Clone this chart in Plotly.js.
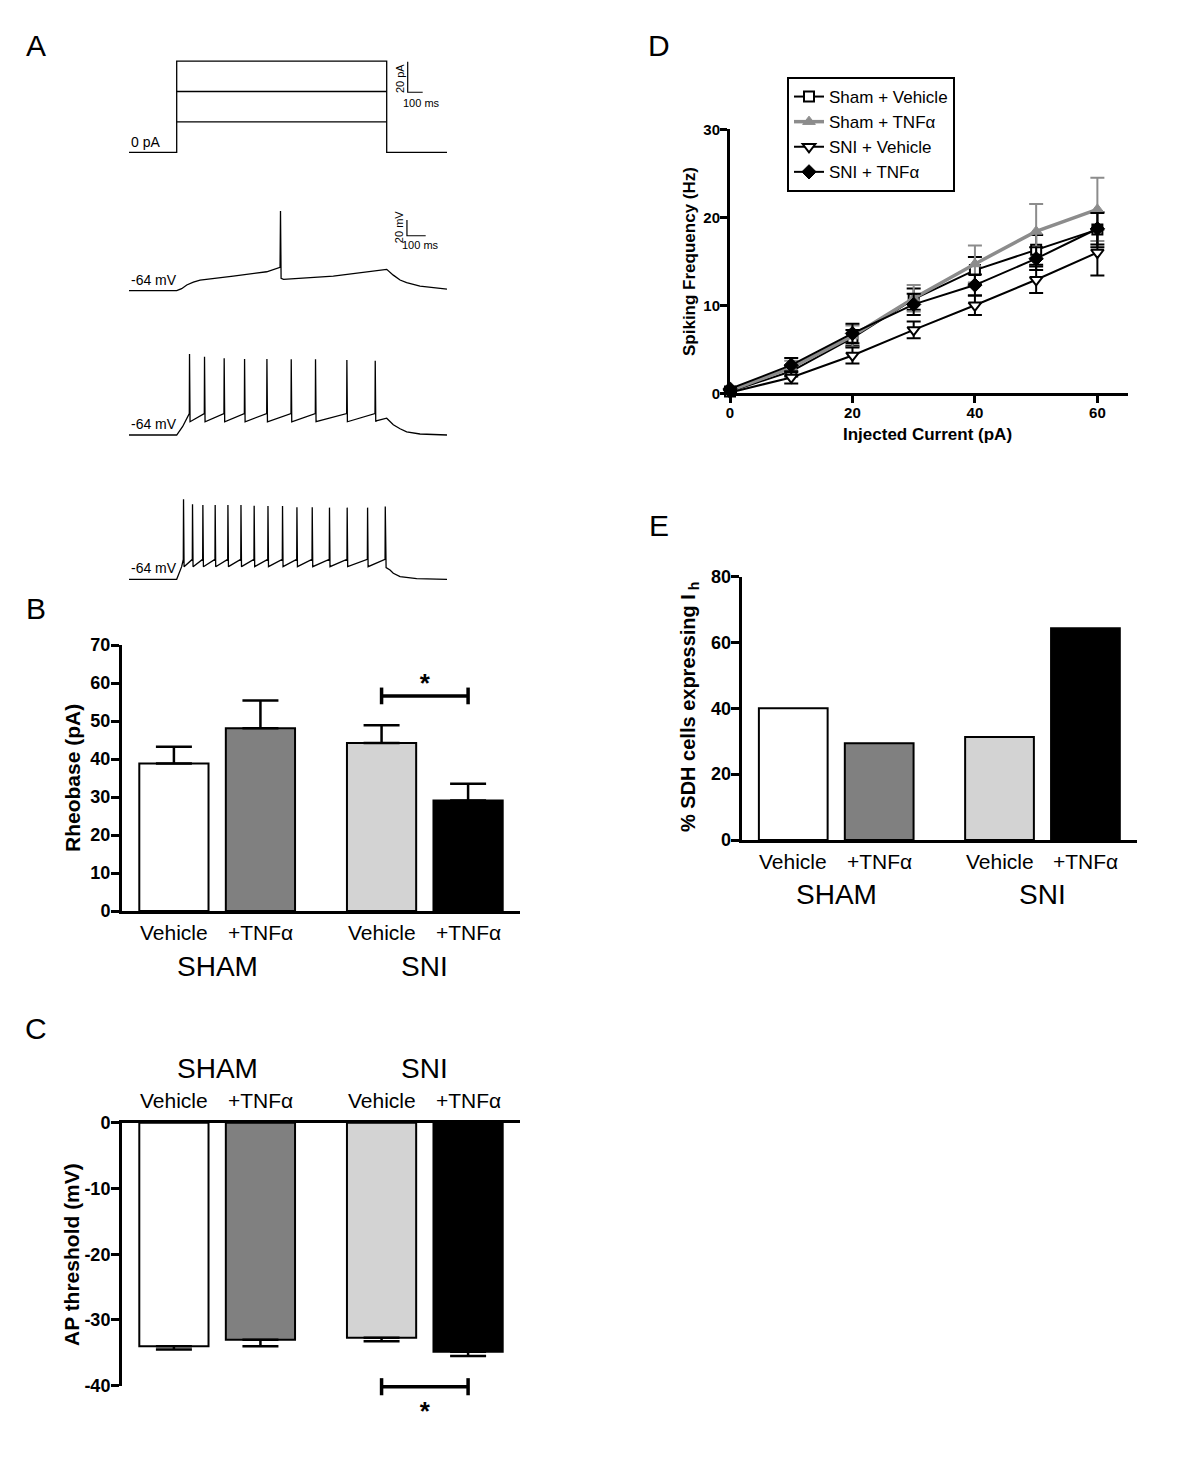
<!DOCTYPE html>
<html><head><meta charset="utf-8">
<script src="https://cdn.plot.ly/plotly-3.0.1.min.js"></script>
<style>html,body{margin:0;padding:0;background:#fff}</style>
</head><body><div id="fig" style="width:1200px;height:1474px"></div>
<script>
// ================= DATA =================
// Panels B, C, E (bar charts)
const barCategories = ["Vehicle", "+TNFα", "Vehicle", "+TNFα"];
const barGroups = ["SHAM", "SNI"];
const barColors = ["#ffffff", "#808080", "#d3d3d3", "#000000"];
const rheobaseMean = [38.8, 48.1, 44.2, 29.1];
const rheobaseSem = [4.4, 7.3, 4.7, 4.4];
const apThresholdMean = [-34.0, -33.0, -32.7, -34.85];
const apThresholdSem = [0.5, 1.0, 0.55, 0.65];
const apTickVals = [0, -10, -20, -30, -40];
const apTickText = ["0", "-10", "-20", "-30", "-40"];
const ihPercent = [40.0, 29.4, 31.3, 64.3];
const sigPair = [2, 3];          // SNI Vehicle vs SNI +TNFα
const sigRheobaseLevel = 56.6;   // pA
const sigThresholdLevel = -40.2; // mV

// Panel D (frequency-current relation)
const injectedCurrent = [0, 10, 20, 30, 40, 50, 60];
const seriesNames = ["Sham + Vehicle", "Sham + TNFα", "SNI + Vehicle", "SNI + TNFα"];
const shamVehFreq = [0.2, 2.5, 6.3, 10.7, 14.0, 16.3, 18.6];
const shamVehSem  = [0.1, 0.6, 0.9, 1.2, 1.5, 1.7, 2.0];
const shamTnfFreq = [0.3, 2.9, 6.5, 10.8, 14.7, 18.4, 20.9];
const shamTnfSem  = [0.1, 0.8, 1.2, 1.5, 2.1, 3.1, 3.6];
const sniVehFreq  = [0.1, 1.8, 4.3, 7.2, 10.0, 12.9, 16.0];
const sniVehSem   = [0.1, 0.7, 0.9, 0.95, 1.1, 1.5, 2.6];
const sniTnfFreq  = [0.5, 3.2, 6.8, 10.1, 12.3, 15.3, 18.7];
const sniTnfSem   = [0.2, 0.8, 1.1, 1.2, 1.2, 1.3, 1.8];

// Panel A (example recordings), time in ms, current in pA, voltage in mV
const timeWindow = [-318, 1802];
const stepOnOff = [0, 1400];
const stepAmplitudes = [20, 40, 60];
const restMV = -64;
// trace 1: single spike (rheobase)
const rheoT = [-318, 0, 33, 67, 111, 156, 377, 600, 689, 692, 696, 712, 1044, 1267, 1400, 1444, 1489, 1533, 1622, 1802];
const rheoV = [-64, -64, -61.4, -56.7, -52.9, -50.3, -45.2, -39.7, -34, 38.2, -48, -49.4, -45.2, -40.4, -36.6, -44, -50.3, -53.5, -58, -61.9];
// trace 2: 9 spikes
const train2Spikes = [84, 184, 315, 451, 600, 762, 924, 1133, 1322];
const train2Peaks  = [39.8, 36.4, 34.3, 33.4, 33.4, 33.0, 33.0, 32.2, 31.3];
const train2Pre = -36.5, train2Trough = -47;
const train2OnsetT = [-318, 0, 40, 78], train2OnsetV = [-64, -64, -53, -40];
const train2TailT = [1330, 1400, 1444, 1489, 1533, 1622, 1802];
const train2TailV = [-45.8, -42.5, -50.8, -56, -60, -62.7, -64];
// trace 3: 15 spikes
const train3Spikes = [44, 104, 173, 255, 340, 427, 515, 607, 704, 800, 902, 1017, 1135, 1271, 1389];
const train3Peaks  = [38.6, 32.2, 31.3, 31.3, 31.3, 31.3, 30.4, 30.0, 30.0, 28.3, 28.3, 27.9, 27.9, 27.9, 29.2];
const train3Pre = -38.4, train3Trough = -47.8;
const train3OnsetT = [-318, 0, 33], train3OnsetV = [-64, -64, -47.8];
const train3TailT = [1396, 1422, 1444, 1489, 1600, 1802];
const train3TailV = [-49, -52, -56.3, -60.6, -63, -64];

// ================= HELPERS =================
const W = 1200, H = 1474;
const FONT = "Liberation Sans, Arial, Helvetica, sans-serif";
function dx(a, b) { return [a / W, b / W]; }
function dy(top, bottom) { return [1 - bottom / H, 1 - top / H]; }
function px(x) { return x / W; }
function py(y) { return 1 - y / H; }
const barPos = [0, 1, 2.4, 3.4];
const groupPos = [0.5, 2.9];

function spikeTrain(onT, onV, spikes, peaks, pre, trough, tailT, tailV) {
  const t = onT.slice(), v = onV.slice();
  spikes.forEach((s, i) => {
    t.push(s, s + 1.5, s + 5); v.push(pre, peaks[i], trough);
  });
  return { t: t.concat(tailT), v: v.concat(tailV) };
}

const traces = [];
const blackLine = { color: "black", width: 1.3 };
// ---- Panel A ----
const stepX = [timeWindow[0], stepOnOff[0], stepOnOff[0], stepOnOff[1], stepOnOff[1], timeWindow[1]];
const stepY = [0, 0, stepAmplitudes[2], stepAmplitudes[2], 0, 0];
stepAmplitudes.slice(0, 2).forEach(a => { stepX.push(null, stepOnOff[0], stepOnOff[1]); stepY.push(null, a, a); });
traces.push({ type: "scatter", mode: "lines", x: stepX, y: stepY, xaxis: "x", yaxis: "y", line: blackLine, hoverinfo: "skip", showlegend: false });
traces.push({ type: "scatter", mode: "lines", x: rheoT, y: rheoV, xaxis: "x", yaxis: "y2", line: blackLine, hoverinfo: "skip", showlegend: false });
const tr2 = spikeTrain(train2OnsetT, train2OnsetV, train2Spikes, train2Peaks, train2Pre, train2Trough, train2TailT, train2TailV);
traces.push({ type: "scatter", mode: "lines", x: tr2.t, y: tr2.v, xaxis: "x", yaxis: "y3", line: blackLine, hoverinfo: "skip", showlegend: false });
const tr3 = spikeTrain(train3OnsetT, train3OnsetV, train3Spikes, train3Peaks, train3Pre, train3Trough, train3TailT, train3TailV);
traces.push({ type: "scatter", mode: "lines", x: tr3.t, y: tr3.v, xaxis: "x", yaxis: "y4", line: blackLine, hoverinfo: "skip", showlegend: false });
// scale bars
const sbT0 = 1540, sbMs = 100;
traces.push({ type: "scatter", mode: "lines", x: [sbT0, sbT0, sbT0 + sbMs], y: [59.5, 39.5, 39.5], xaxis: "x", yaxis: "y", line: { color: "black", width: 1.2 }, hoverinfo: "skip", showlegend: false });
traces.push({ type: "scatter", mode: "lines", x: [sbT0 - 5, sbT0 - 5, sbT0 + sbMs + 20], y: [26.5, 6.5, 6.5], xaxis: "x", yaxis: "y2", line: { color: "black", width: 1.2 }, hoverinfo: "skip", showlegend: false });

// ---- Panel B ----
traces.push({ type: "bar", x: barPos, y: rheobaseMean, width: 0.8, xaxis: "x2", yaxis: "y5",
  marker: { color: barColors, line: { color: "black", width: 2 } },
  error_y: { type: "data", symmetric: false, array: rheobaseSem, arrayminus: [0, 0, 0, 0], color: "black", thickness: 2.5, width: 18 },
  hoverinfo: "skip", showlegend: false });
const bx1 = barPos[sigPair[0]], bx2 = barPos[sigPair[1]];
traces.push({ type: "scatter", mode: "lines", xaxis: "x2", yaxis: "y5",
  x: [bx1, bx1, null, bx1, bx2, null, bx2, bx2],
  y: [sigRheobaseLevel - 2.2, sigRheobaseLevel + 2.2, null, sigRheobaseLevel, sigRheobaseLevel, null, sigRheobaseLevel - 2.2, sigRheobaseLevel + 2.2],
  line: { color: "black", width: 3.5 }, hoverinfo: "skip", showlegend: false });
traces.push({ type: "scatter", mode: "text", xaxis: "x2", yaxis: "y5", x: [(bx1 + bx2) / 2], y: [59.3], text: ["*"],
  textposition: "middle center", textfont: { family: FONT, size: 26, color: "black", weight: "bold" }, hoverinfo: "skip", showlegend: false, cliponaxis: false });

// ---- Panel C ----
traces.push({ type: "bar", x: barPos, y: apThresholdMean, width: 0.8, xaxis: "x3", yaxis: "y6",
  marker: { color: barColors, line: { color: "black", width: 2 } },
  error_y: { type: "data", symmetric: false, array: [0, 0, 0, 0], arrayminus: apThresholdSem, color: "black", thickness: 2.5, width: 18 },
  hoverinfo: "skip", showlegend: false });
traces.push({ type: "scatter", mode: "lines", xaxis: "x3", yaxis: "y9",
  x: [bx1, bx1, null, bx1, bx2, null, bx2, bx2],
  y: [sigThresholdLevel - 1.3, sigThresholdLevel + 1.3, null, sigThresholdLevel, sigThresholdLevel, null, sigThresholdLevel - 1.3, sigThresholdLevel + 1.3],
  line: { color: "black", width: 3.5 }, hoverinfo: "skip", showlegend: false });
traces.push({ type: "scatter", mode: "text", xaxis: "x3", yaxis: "y9", x: [(bx1 + bx2) / 2], y: [-44.3], text: ["*"],
  textposition: "middle center", textfont: { family: FONT, size: 26, color: "black", weight: "bold" }, hoverinfo: "skip", showlegend: false, cliponaxis: false });

// ---- Panel D ----
const dSeries = [
  { y: shamVehFreq, e: shamVehSem, color: "black", lw: 2, marker: { symbol: "square", size: 10, color: "white", line: { color: "black", width: 2 } } },
  { y: shamTnfFreq, e: shamTnfSem, color: "#8c8c8c", lw: 3.5, marker: { symbol: "triangle-up", size: 11, color: "#8c8c8c", line: { color: "#8c8c8c", width: 1 } } },
  { y: sniVehFreq, e: sniVehSem, color: "black", lw: 2, marker: { symbol: "triangle-down", size: 11, color: "white", line: { color: "black", width: 2 } } },
  { y: sniTnfFreq, e: sniTnfSem, color: "black", lw: 2, marker: { symbol: "diamond", size: 11, color: "black", line: { color: "black", width: 1 } } }
];
dSeries.forEach((s, i) => {
  traces.push({ type: "scatter", mode: "lines+markers", name: seriesNames[i], x: injectedCurrent, y: s.y,
    xaxis: "x4", yaxis: "y7", line: { color: s.color, width: s.lw }, marker: s.marker,
    error_y: { type: "data", array: s.e, color: s.color, thickness: 2, width: 7 },
    cliponaxis: false, hoverinfo: "skip", showlegend: true });
});

// ---- Panel E ----
traces.push({ type: "bar", x: barPos, y: ihPercent, width: 0.8, xaxis: "x5", yaxis: "y8",
  marker: { color: barColors, line: { color: "black", width: 2 } }, hoverinfo: "skip", showlegend: false });

// ================= LAYOUT =================
const tickFontBar = { family: FONT, size: 18, color: "black", weight: "bold" };
const tickFontD = { family: FONT, size: 15, color: "black", weight: "bold" };
const hidden = { visible: false, fixedrange: true };
function valAxis(domain, range, dtick, anchor, font, ticklen, standoff) {
  return { domain, range, dtick, anchor, tick0: 0, showline: true, linewidth: 3, linecolor: "black", ticks: "outside", ticklen: ticklen, tickwidth: 3, tickcolor: "black",
    tickfont: font, ticklabelstandoff: standoff, showgrid: false, zeroline: false, fixedrange: true };
}
function catAxis(domain, anchor, side) {
  return { domain, range: [-0.6, 4.0], anchor, side: side || "bottom", showline: true, linewidth: 3, linecolor: "black", ticks: "", showticklabels: false, showgrid: false, zeroline: false, fixedrange: true };
}

const annotations = [];
function ann(text, x, y, size, opts) {
  annotations.push(Object.assign({ text, x, y, xref: "paper", yref: "paper", showarrow: false, xanchor: "center", yanchor: "middle",
    font: { family: FONT, size, color: "black" } }, opts || {}));
}
// panel letters
[["A", 36, 45], ["B", 36, 609], ["C", 36, 1028], ["D", 659, 45], ["E", 659, 525]].forEach(p => ann(p[0], px(p[1]), py(p[2]), 30));
// panel A labels
ann("0 pA", timeWindow[0], 0, 14, { xref: "x", yref: "y", xanchor: "left", yanchor: "bottom", yshift: 0 });
["y2", "y3", "y4"].forEach(a => ann("-64 mV", timeWindow[0], restMV, 14, { xref: "x", yref: a, xanchor: "left", yanchor: "bottom", yshift: 1 }));
ann("20 pA", 1489, 48.2, 11, { xref: "x", yref: "y", textangle: -90 });
ann("100 ms", 1633, 32.6, 11, { xref: "x", yref: "y" });
ann("20 mV", 1482, 17.5, 11, { xref: "x", yref: "y2", textangle: -90 });
ann("100 ms", 1625, -5.4, 11, { xref: "x", yref: "y2" });
// category + group labels
function catLabels(xref, catY, groupY) {
  barCategories.forEach((c, i) => ann(c, barPos[i], py(catY), 21, { xref }));
  barGroups.forEach((g, i) => ann(g, groupPos[i], py(groupY), 28, { xref }));
}
catLabels("x2", 932.7, 966);
catLabels("x3", 1100.7, 1068);
catLabels("x5", 861.7, 895);
// axis titles
const boldTitle = (t, x, y, size) => ann(t, px(x), py(y), size, { textangle: -90, font: { family: FONT, size, color: "black", weight: "bold" } });
boldTitle("Rheobase (pA)", 72, 778, 21);
boldTitle("AP threshold (mV)", 71, 1255, 21);
boldTitle("Spiking Frequency (Hz)", 690, 262, 17);
boldTitle("% SDH cells expressing I<sub> h</sub>", 689, 707, 20);
ann("Injected Current (pA)", px(927), py(435), 17, { font: { family: FONT, size: 17, color: "black", weight: "bold" } });

const yC = valAxis(dy(1122.7, 1385.7), [-40, 0], 10, "x3", tickFontBar, 8, -3);
yC.tickmode = "array"; yC.tickvals = apTickVals; yC.ticktext = apTickText;

const layout = {
  width: W, height: H, margin: { l: 0, r: 0, t: 0, b: 0 }, paper_bgcolor: "white", plot_bgcolor: "rgba(0,0,0,0)",
  font: { family: FONT, color: "black" }, showlegend: true, bargap: 0,
  legend: { x: px(787), y: py(77), xanchor: "left", yanchor: "top", bordercolor: "black", borderwidth: 2, bgcolor: "white",
    font: { family: FONT, size: 17, color: "black" }, itemwidth: 30, tracegroupgap: 0 },
  xaxis: Object.assign({ domain: dx(129, 447), range: timeWindow, anchor: "y" }, hidden),
  yaxis: Object.assign({ domain: dy(50, 160), range: [-5.07, 67.3], anchor: "x" }, hidden),
  yaxis2: Object.assign({ domain: dy(200, 300), range: [-75.9, 52.3], anchor: "x" }, hidden),
  yaxis3: Object.assign({ domain: dy(340, 445), range: [-76.8, 57.8], anchor: "x" }, hidden),
  yaxis4: Object.assign({ domain: dy(490, 590), range: [-77.7, 50.5], anchor: "x" }, hidden),
  xaxis2: catAxis(dx(122, 520), "y5"),
  yaxis5: valAxis(dy(645, 911), [0, 70], 10, "x2", tickFontBar, 8, -3),
  xaxis3: catAxis(dx(122, 520), "y6", "top"),
  yaxis6: yC,
  yaxis9: Object.assign({ domain: dy(1370, 1425), range: [-46.02, -37.66], anchor: "x3" }, hidden),
  xaxis4: valAxis(dx(730, 1128), [0, 65], 20, "y7", tickFontD, 7, -3),
  yaxis7: valAxis(dy(129.3, 393.3), [0, 30], 10, "x4", tickFontD, 7, -3),
  xaxis5: catAxis(dx(741.7, 1137), "y8"),
  yaxis8: valAxis(dy(576.7, 840), [0, 80], 20, "x5", tickFontBar, 8, -4),
  annotations
};

Plotly.newPlot("fig", traces, layout, { staticPlot: true, displayModeBar: false });
</script>
</body></html>
